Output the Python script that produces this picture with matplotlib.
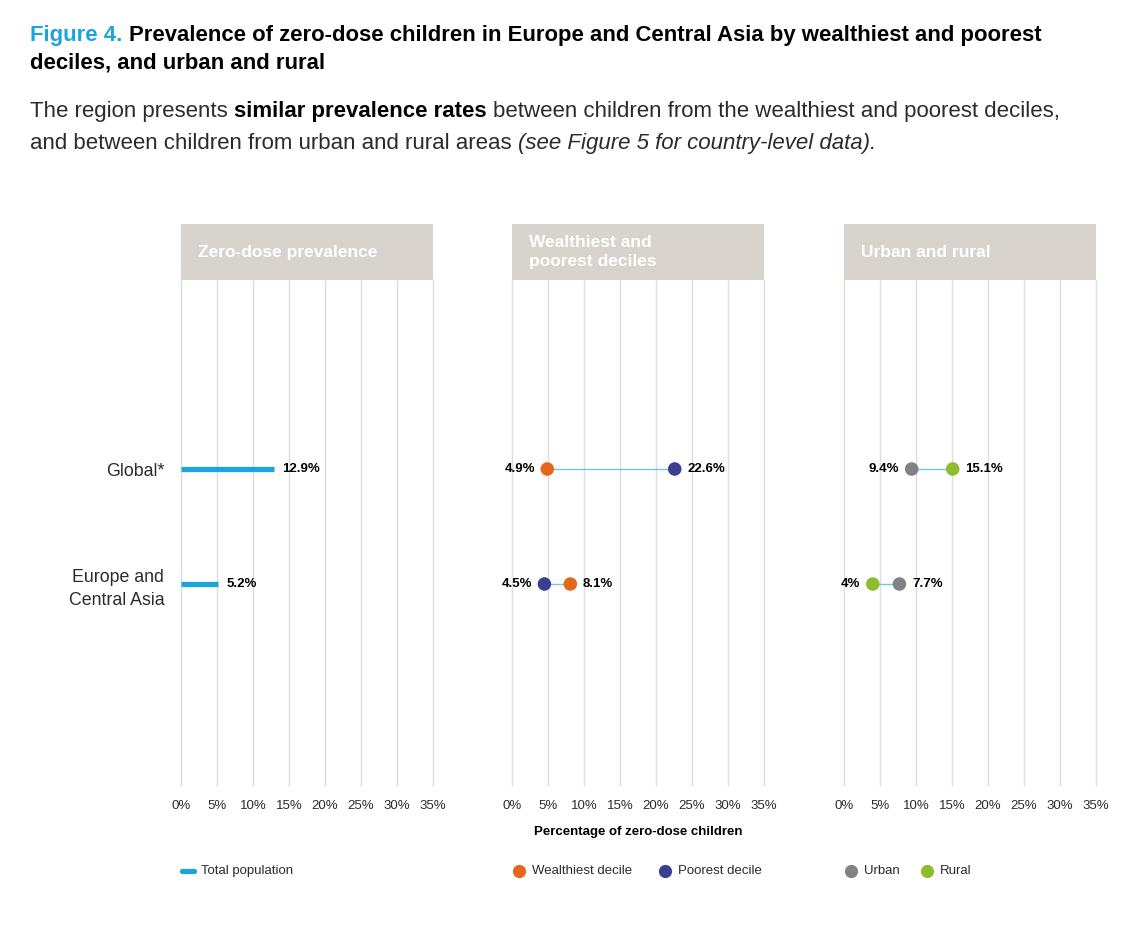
import numpy as np
import matplotlib.pyplot as plt

plt.rcParams['font.family'] = ['Liberation Sans', 'DejaVu Sans']

# data
regioni = ['Global*', 'Europe and\nCentral Asia']
total = [12.9, 5.2]
wealthiest = [4.9, 8.1]
poorest = [22.6, 4.5]
urban = [9.4, 7.7]
rural = [15.1, 4.0]
ticks = [0, 5, 10, 15, 20, 25, 30, 35]
tick_labels = ['0%', '5%', '10%', '15%', '20%', '25%', '30%', '35%']
titluri = ['Zero-dose prevalence', 'Wealthiest and\npoorest deciles', 'Urban and rural']

c_blue = '#1ea4dc'
c_orange = '#e5661d'
c_navy = '#3b3f93'
c_grey = '#818285'
c_green = '#8dbd2e'
c_link = '#72c7de'
c_header = '#d9d3cd'
c_text = '#2b2b2b'

fig = plt.figure(figsize=(11.4, 9.32), dpi=100)
W, H = 1140, 932


def fx(px):
    return px / W


def fy(py):
    return 1 - py / H


def fmt(v):
    s = ('%.1f' % v).rstrip('0').rstrip('.')
    return s + '%'


# titlu cu segmente
renderer = fig.canvas.get_renderer()


def scrie(segmente, x, y, size):
    for txt, culoare, weight, style in segmente:
        t = fig.text(x, y, txt, color=culoare, fontsize=size, fontweight=weight,
                     fontstyle=style, va='baseline', ha='left')
        bb = t.get_window_extent(renderer=renderer)
        x = x + bb.width / W + (size * 0.28 / 72 * 100) / W


scrie([('Figure 4.', c_blue, 'bold', 'normal'),
       ('Prevalence of zero-dose children in Europe and Central Asia by wealthiest and poorest', 'black', 'bold', 'normal')],
      fx(30), fy(41), 15.9)
scrie([('deciles, and urban and rural', 'black', 'bold', 'normal')], fx(30), fy(68), 15.9)
scrie([('The region presents', c_text, 'normal', 'normal'),
       ('similar prevalence rates', 'black', 'bold', 'normal'),
       ('between children from the wealthiest and poorest deciles,', c_text, 'normal', 'normal')],
      fx(30), fy(117), 16)
scrie([('and between children from urban and rural areas', c_text, 'normal', 'normal'),
       ('(see Figure 5 for country-level data).', c_text, 'normal', 'italic')],
      fx(30), fy(149), 16)

stangi = [181, 512, 844]
latime = 252
y_sus, y_jos, y_cap = 280, 785, 224

# pozitii randuri: Global la 469px, Europe la 584px
pas = (584 - 469) / (y_jos - y_sus)
sus = -((469 - y_sus) / (y_jos - y_sus)) / pas
jos = 1 + ((y_jos - 584) / (y_jos - y_sus)) / pas
y = np.arange(len(regioni))

axe = []
for i, st in enumerate(stangi):
    ax = fig.add_axes([fx(st), fy(y_jos), latime / W, (y_jos - y_sus) / H])
    ax.set_xlim(0, 35)
    ax.set_ylim(jos, sus)
    for t in ticks:
        ax.axvline(t, color='#dddddd', lw=1, zorder=0, clip_on=False)
    for s in ax.spines.values():
        s.set_visible(False)
    ax.set_xticks(ticks)
    ax.set_xticklabels(tick_labels, fontsize=9.5, color=c_text)
    ax.tick_params(axis='x', length=0, pad=11)
    ax.set_yticks([])
    # antet
    hd = fig.add_axes([fx(st), fy(y_sus), latime / W, (y_sus - y_cap) / H])
    hd.set_facecolor(c_header)
    hd.set_xticks([])
    hd.set_yticks([])
    for s in hd.spines.values():
        s.set_visible(False)
    hd.text(17 / latime, 0.5, titluri[i], transform=hd.transAxes, color='white',
            fontsize=12.5, fontweight='bold', va='center', ha='left', linespacing=1.35)
    axe.append(ax)

# panel 1: bare
ax = axe[0]
ax.hlines(y, 0, total, color=c_blue, lw=3.8)
for yi, v in zip(y, total):
    ax.annotate(fmt(v), (v, yi), xytext=(6, 0), textcoords='offset points',
                fontsize=9.5, fontweight='bold', va='center', ha='left', color='black')
ax.set_yticks(y)
ax.set_yticklabels(regioni, fontsize=12.8, color=c_text, linespacing=1.45)
ax.tick_params(axis='y', length=0, pad=12)


def dumbbell(ax, a, b, ca, cb):
    for yi, va, vb in zip(y, a, b):
        ax.plot([va, vb], [yi, yi], color=c_link, lw=1, zorder=2)
        ax.scatter([va], [yi], s=95, color=ca, zorder=3, edgecolors='none')
        ax.scatter([vb], [yi], s=95, color=cb, zorder=3, edgecolors='none')
        lo, hi = min(va, vb), max(va, vb)
        ax.annotate(fmt(lo), (lo, yi), xytext=(-9, 0), textcoords='offset points',
                    fontsize=9.5, fontweight='bold', va='center', ha='right', color='black')
        ax.annotate(fmt(hi), (hi, yi), xytext=(9, 0), textcoords='offset points',
                    fontsize=9.5, fontweight='bold', va='center', ha='left', color='black')


dumbbell(axe[1], wealthiest, poorest, c_orange, c_navy)
dumbbell(axe[2], urban, rural, c_grey, c_green)

fig.text(fx(638), fy(832), 'Percentage of zero-dose children', ha='center', va='center',
         fontsize=9.5, fontweight='bold', color='black')

# legenda
ly = fy(871)
fig.add_artist(plt.Line2D([fx(182), fx(194)], [ly, ly], color=c_blue, lw=3.8,
                          solid_capstyle='round', transform=fig.transFigure))
fig.text(fx(201), ly, 'Total population', va='center', fontsize=9.5, color=c_text)
for px, c, txt in [(519, c_orange, 'Wealthiest decile'), (665, c_navy, 'Poorest decile'),
                   (851, c_grey, 'Urban'), (927, c_green, 'Rural')]:
    fig.add_artist(plt.Line2D([fx(px)], [ly], marker='o', markersize=9.5, color=c,
                              markeredgewidth=0, transform=fig.transFigure))
    fig.text(fx(px + 13), ly, txt, va='center', fontsize=9.5, color=c_text)

fig.savefig('out.png', dpi=100, facecolor='white')
